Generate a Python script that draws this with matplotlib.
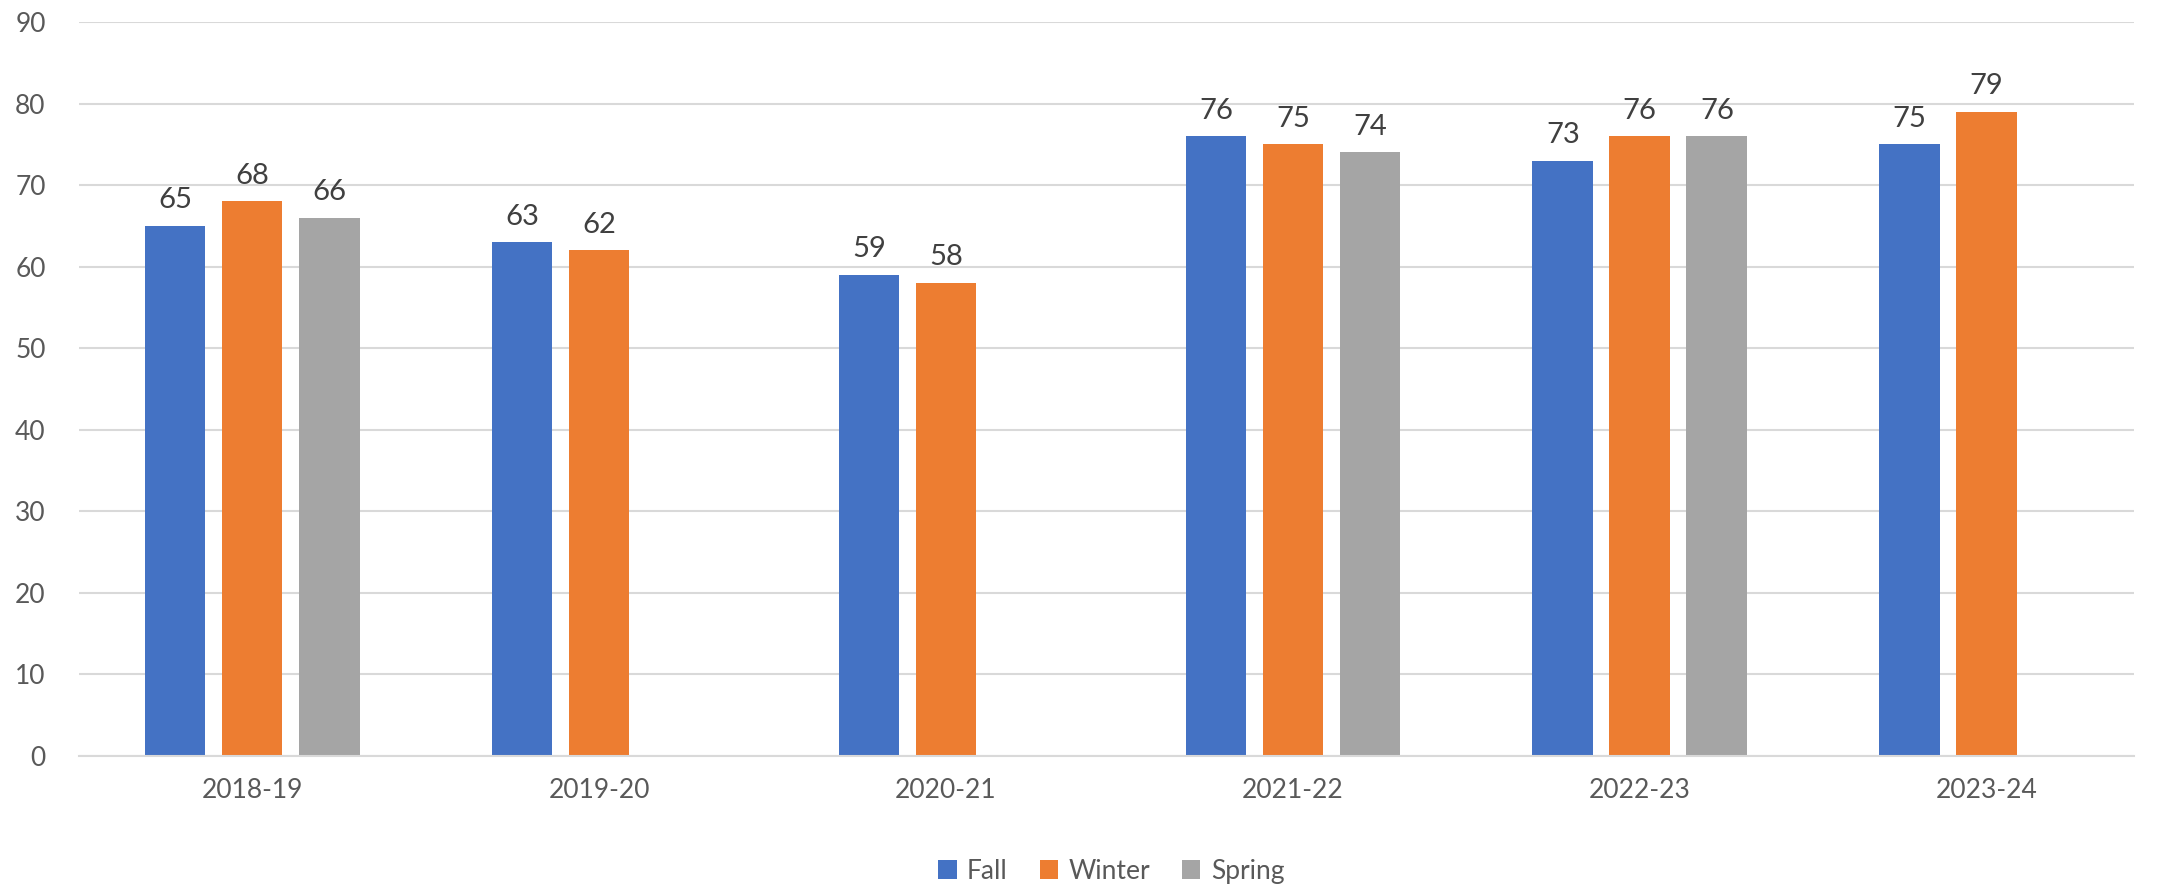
import numpy as np
import matplotlib.pyplot as plt
from matplotlib.patches import Patch

# Data
years = ["2018-19", "2019-20", "2020-21", "2021-22", "2022-23", "2023-24"]
fall = [65, 63, 59, 76, 73, 75]
winter = [68, 62, 58, 75, 76, 79]
spring = [66, None, None, 74, 76, None]

series_names = ["Fall", "Winter", "Spring"]
colors = ["#4472C4", "#ED7D31", "#A5A5A5"]

plt.rcParams['font.family'] = ['Lato', 'DejaVu Sans']

fig = plt.figure(figsize=(21.59, 8.89), dpi=100)
ax = fig.add_axes([0.0366, 0.1496, 0.9519, 0.8257])

x = np.arange(len(years))
width = 0.175
step = 0.222

for i, (name, vals, col) in enumerate(zip(series_names, [fall, winter, spring], colors)):
    offs = (i - 1) * step
    for xi, v in zip(x, vals):
        if v is None:
            continue
        ax.bar(xi + offs, v, width, color=col, zorder=2)
        ax.annotate(str(v), (xi + offs, v), xytext=(0, 9), textcoords="offset points",
                    ha="center", va="bottom", fontsize=21, color="#404040")

ax.set_xlim(-0.499, 5.425)
ax.set_ylim(0, 90)
ax.set_yticks(range(0, 91, 10))
ax.set_xticks(x)
ax.set_xticklabels(years)
ax.yaxis.grid(True, color="#d9d9d9", linewidth=1.5, zorder=0)
ax.set_axisbelow(True)
for s in ["top", "right", "left"]:
    ax.spines[s].set_visible(False)
ax.spines["bottom"].set_color("#d9d9d9")
ax.spines["bottom"].set_linewidth(1.5)
ax.tick_params(axis="both", length=0, labelsize=19, colors="#595959")
ax.tick_params(axis="x", pad=16)
ax.tick_params(axis="y", pad=24)

handles = [Patch(facecolor=c, label=n) for n, c in zip(series_names, colors)]
leg = fig.legend(handles=handles, loc="center", bbox_to_anchor=(0.5147, 0.02), ncol=3, frameon=False,
                 fontsize=19, handlelength=0.7, handleheight=0.7, columnspacing=1.2, handletextpad=0.4)
for t in leg.get_texts():
    t.set_color("#595959")

fig.savefig("out.png", dpi=100)
